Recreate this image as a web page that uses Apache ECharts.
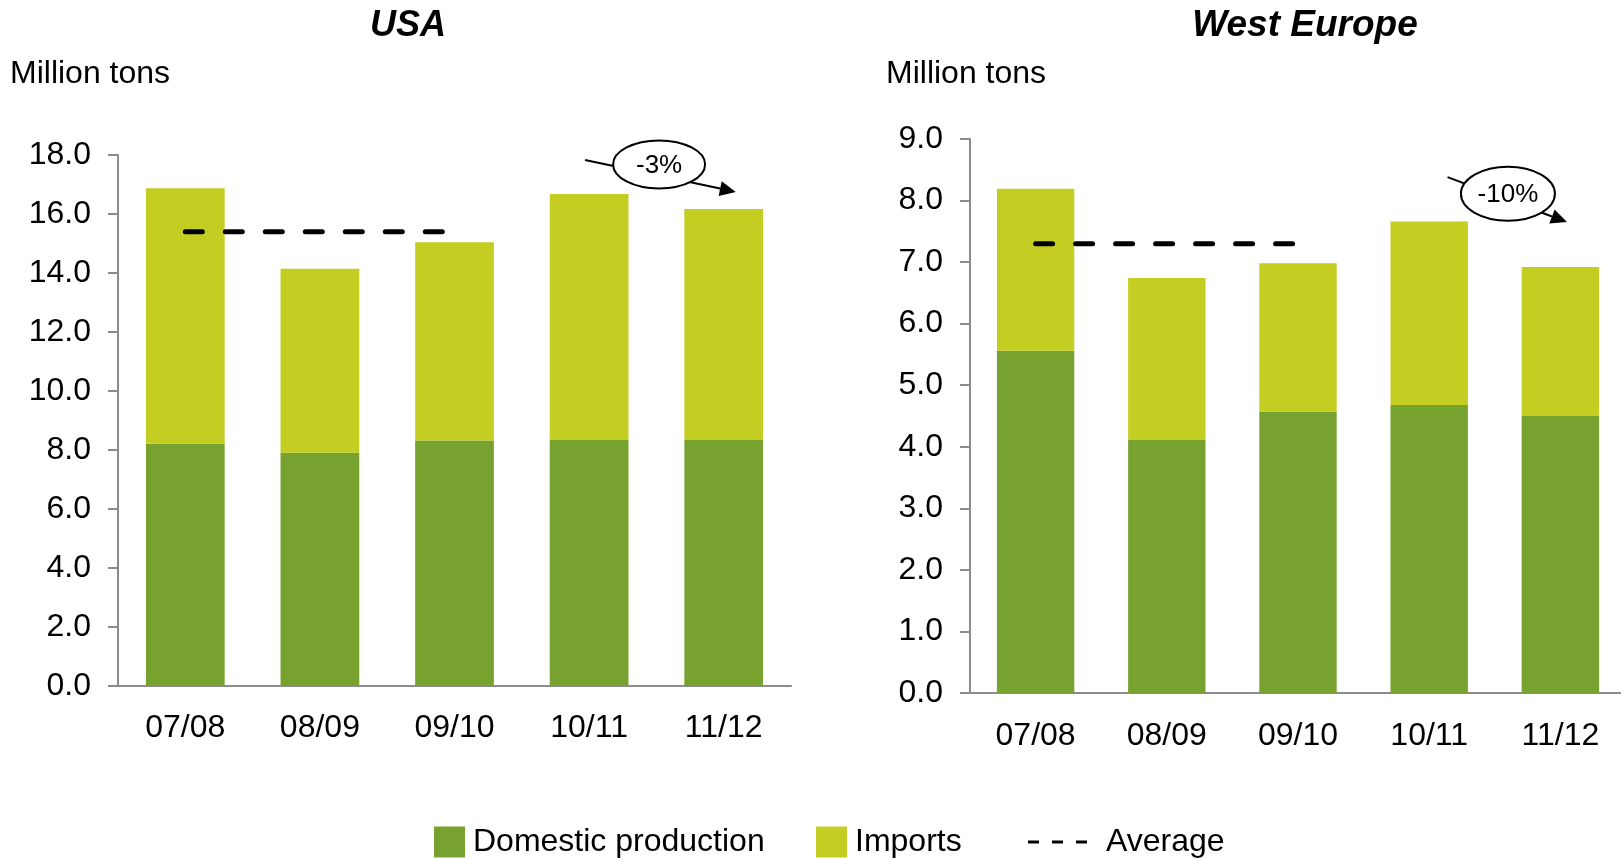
<!DOCTYPE html>
<html><head><meta charset="utf-8">
<script src="https://cdn.jsdelivr.net/npm/echarts@6/dist/echarts.min.js"></script>
<style>html,body{margin:0;padding:0;background:#fff}#c{width:1621px;height:859px}</style>
</head><body><div id="c"></div>
<script>
// ---- data ----
const categories = ['07/08', '08/09', '09/10', '10/11', '11/12'];
const usaDomestic = [8.21, 7.91, 8.32, 8.36, 8.36];
const usaImports  = [8.66, 6.23, 6.72, 8.32, 7.81];
const usaAverage  = [15.4, 15.4, 15.4, null, null];
const weDomestic  = [5.56, 4.12, 4.57, 4.68, 4.51];
const weImports   = [2.63, 2.62, 2.41, 2.98, 2.41];
const weAverage   = [7.3, 7.3, 7.3, null, null];
const usaTickLabels = ['0.0','2.0','4.0','6.0','8.0','10.0','12.0','14.0','16.0','18.0'];
const weTickLabels  = ['0.0','1.0','2.0','3.0','4.0','5.0','6.0','7.0','8.0','9.0'];
const panelTitles = ['USA', 'West Europe'];
const unitLabel = 'Million tons';
const changeLabels = ['-3%', '-10%'];
const seriesNames = ['Domestic production', 'Imports', 'Average'];

const FONT = '"Liberation Sans", Arial, sans-serif';
const C_DOM = '#78A22F', C_IMP = '#C4CE22', AX = '#8C8C8C';

const chart = echarts.init(document.getElementById('c'), null, {renderer: 'canvas'});

function yAxis(gi, max, interval, labels) {
  return {
    type: 'value', gridIndex: gi, min: 0, max: max, interval: interval,
    axisLine: {show: true, lineStyle: {color: AX, width: 2}},
    axisTick: {show: true, length: 10, lineStyle: {color: AX, width: 2}},
    splitLine: {show: false},
    axisLabel: {margin: 27, color: '#000', fontFamily: FONT, fontSize: 32,
      formatter: v => labels[Math.round(v / interval)]}
  };
}
function xAxis(gi, margin) {
  return {
    type: 'category', gridIndex: gi, data: categories,
    axisLine: {show: true, lineStyle: {color: AX, width: 2}},
    axisTick: {show: false},
    axisLabel: {margin: margin, color: '#000', fontFamily: FONT, fontSize: 32}
  };
}
function series(gi, dom, imp, avg, gap) {
  return [
    {name: seriesNames[0], type: 'bar', xAxisIndex: gi, yAxisIndex: gi, stack: 's' + gi,
     data: dom, barCategoryGap: gap, itemStyle: {color: C_DOM}},
    {name: seriesNames[1], type: 'bar', xAxisIndex: gi, yAxisIndex: gi, stack: 's' + gi,
     data: imp, barCategoryGap: gap, itemStyle: {color: C_IMP}},
    {name: seriesNames[2], type: 'line', xAxisIndex: gi, yAxisIndex: gi, data: avg,
     symbol: 'none', z: 5, itemStyle: {color: '#000'},
     lineStyle: {color: '#000', width: 5, type: [17, 23], cap: 'round'}}
  ];
}

const legendText = {color: '#000', fontFamily: FONT, fontSize: 32, padding: [0, 0, 0, 3]};
chart.setOption({
  animation: false,
  grid: [
    {left: 118, top: 155, width: 673, height: 531, outerBoundsMode: 'none', containLabel: false},
    {left: 970, top: 139, width: 656, height: 554, outerBoundsMode: 'none', containLabel: false}
  ],
  xAxis: [xAxis(0, 26), xAxis(1, 27)],
  yAxis: [yAxis(0, 18, 2, usaTickLabels), yAxis(1, 9, 1, weTickLabels)],
  legend: [
    {left: 429, top: 821, itemWidth: 31, itemHeight: 31, selectedMode: false,
     data: [{name: seriesNames[0], icon: 'rect'}], textStyle: legendText},
    {left: 811, top: 821, itemWidth: 31, itemHeight: 31, selectedMode: false,
     data: [{name: seriesNames[1], icon: 'rect'}], textStyle: legendText},
    {left: 1023, top: 821, itemWidth: 59, itemHeight: 31, selectedMode: false,
     itemStyle: {borderWidth: 0},
     data: [{name: seriesNames[2],
       icon: 'path://M0,14h11v3h-11z M24,14h11v3h-11z M48,14h11v3h-11z M0,0h0.01v31h-0.01z M58.99,0h0.01v31h-0.01z'}],
     textStyle: Object.assign({}, legendText, {padding: [0, 0, 0, 14]})}
  ],
  series: [].concat(series(0, usaDomestic, usaImports, usaAverage, '41.5%'),
                    series(1, weDomestic, weImports, weAverage, '41%'))
});

// ---- annotations placed through the axes ----
function px(gi, idx, val) {
  const p0 = chart.convertToPixel({xAxisIndex: gi, yAxisIndex: gi}, [0, val]);
  const p1 = chart.convertToPixel({xAxisIndex: gi, yAxisIndex: gi}, [1, val]);
  return [p0[0] + (p1[0] - p0[0]) * idx, p0[1]];
}
function annotation(gi, start, tip, center, rx, ry, label) {
  const a = px(gi, start[0], start[1]);
  const b = px(gi, tip[0], tip[1]);
  const c = px(gi, center[0], center[1]);
  const dx = b[0] - a[0], dy = b[1] - a[1], L = Math.hypot(dx, dy);
  const ux = dx / L, uy = dy / L, nx = -uy, ny = ux;
  const hl = 16, hw = 7.5;
  const base = [b[0] - ux * hl, b[1] - uy * hl];
  return [
    {type: 'line', z: 100, shape: {x1: a[0], y1: a[1], x2: base[0], y2: base[1]},
     style: {stroke: '#000', lineWidth: 2}},
    {type: 'polygon', z: 100, shape: {points: [b, [base[0] + nx * hw, base[1] + ny * hw], [base[0] - nx * hw, base[1] - ny * hw]]},
     style: {fill: '#000'}},
    {type: 'ellipse', z: 101, shape: {cx: c[0], cy: c[1], rx: rx, ry: ry},
     style: {fill: '#fff', stroke: '#000', lineWidth: 2}},
    {type: 'text', z: 102, x: c[0], y: c[1] + 1,
     style: {text: label, fill: '#000', font: '26px ' + FONT, align: 'center', verticalAlign: 'middle'}}
  ];
}

const graphics = [
  {type: 'text', x: 408, y: 26, style: {text: panelTitles[0], fill: '#000',
    font: 'italic bold 36px ' + FONT, align: 'center', verticalAlign: 'middle'}},
  {type: 'text', x: 1305, y: 26, style: {text: panelTitles[1], fill: '#000',
    font: 'italic bold 37px ' + FONT, align: 'center', verticalAlign: 'middle'}},
  {type: 'text', x: 10, y: 74, style: {text: unitLabel, fill: '#000',
    font: '32px ' + FONT, align: 'left', verticalAlign: 'middle'}},
  {type: 'text', x: 886, y: 74, style: {text: unitLabel, fill: '#000',
    font: '32px ' + FONT, align: 'left', verticalAlign: 'middle'}}
].concat(
  annotation(0, [2.97, 17.83], [4.09, 16.75], [3.52, 17.68], 46, 24, changeLabels[0]),
  annotation(1, [3.14, 8.38], [4.05, 7.65], [3.60, 8.11], 47, 27, changeLabels[1])
);
chart.setOption({graphic: graphics});
</script>
</body></html>
